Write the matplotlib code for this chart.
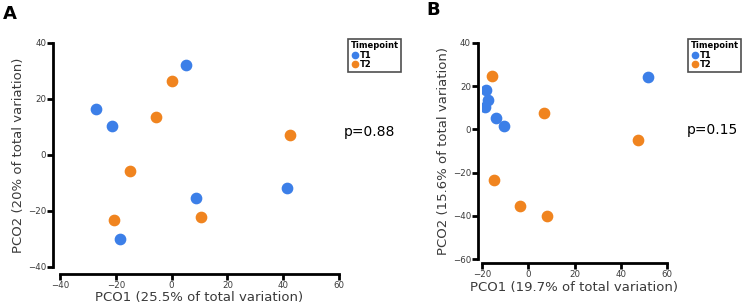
import matplotlib.pyplot as plt
from matplotlib.lines import Line2D

# Panel A data (PCO1, PCO2)
a_t1_x = [5.0, -27.0, -21.2, 8.9, 41.2, -18.4]
a_t1_y = [32.0, 16.4, 10.5, -15.4, -11.8, -29.9]
a_t2_x = [0.3, -5.7, 42.4, -14.8, -20.8, 10.4]
a_t2_y = [26.6, 13.4, 7.2, -5.7, -23.2, -22.0]

# Panel B data
b_t1_x = [51.9, -18.1, -17.6, -18.6, -13.9, -10.3]
b_t1_y = [24.2, 18.0, 13.7, 10.5, 5.4, 1.4]
b_t2_x = [-15.7, 6.9, 47.6, -14.7, -3.7, 8.0]
b_t2_y = [24.6, 7.7, -4.9, -23.4, -35.5, -40.2]

blue = "#3c7fe8"
orange = "#f0841f"
txt = "#3a3a3a"

fig = plt.figure(figsize=(7.44, 3.03), dpi=100)


def style_axes(ax, xlim, ylim, xticks, yticks, xlabel, ylabel, offset):
    ax.set_xlim(*xlim)
    ax.set_ylim(*ylim)
    ax.set_xticks(xticks)
    ax.set_yticks(yticks)
    for s in ["top", "right"]:
        ax.spines[s].set_visible(False)
    for s in ["left", "bottom"]:
        ax.spines[s].set_linewidth(2)
        ax.spines[s].set_position(("outward", offset))
    ax.tick_params(direction="out", length=4, width=2, labelsize=6.2,
                   labelcolor=txt, pad=1)
    ax.set_xlabel(xlabel, fontsize=9.5, color=txt, labelpad=1)
    ax.set_ylabel(ylabel, fontsize=9.5, color=txt, labelpad=2)
    ax.patch.set_alpha(0)


def add_legend(ax, x, y):
    handles = [Line2D([], [], marker="o", ls="", color=blue, markersize=4.5, label="T1"),
               Line2D([], [], marker="o", ls="", color=orange, markersize=4.5, label="T2")]
    leg = ax.legend(handles=handles, title="Timepoint", loc="upper left",
                    bbox_to_anchor=(x, y), bbox_transform=fig.transFigure,
                    frameon=True, fancybox=False, fontsize=6,
                    title_fontproperties={"weight": "bold", "size": 6},
                    handletextpad=0.1, handlelength=1.0, borderpad=0.3,
                    labelspacing=0.05, borderaxespad=0)
    leg.get_frame().set_edgecolor("#222222")
    leg.get_frame().set_linewidth(1.2)
    leg._legend_box.align = "left"
    for t in leg.get_texts():
        t.set_fontweight("bold")


# Panel A
axA = fig.add_axes([60 / 744, 36 / 303, 279 / 744, 224 / 303])
axA.scatter(a_t1_x, a_t1_y, s=55, color=blue, zorder=3)
axA.scatter(a_t2_x, a_t2_y, s=55, color=orange, zorder=3)
style_axes(axA, (-40, 60), (-40, 40), [-40, -20, 0, 20, 40, 60], [-40, -20, 0, 20, 40],
           "PCO1 (25.5% of total variation)", "PCO2 (20% of total variation)", 5)
add_legend(axA, 348 / 744, 1 - 39 / 303)
fig.text(344 / 744, 1 - 132 / 303, "p=0.88", fontsize=10, color="black", va="center")
fig.text(3 / 744, 1 - 14 / 303, "A", fontsize=13, fontweight="bold", va="center")

# Panel B
axB = fig.add_axes([482 / 744, 43.7 / 303, 185 / 744, 216.6 / 303])
axB.scatter(b_t1_x, b_t1_y, s=55, color=blue, zorder=3)
axB.scatter(b_t2_x, b_t2_y, s=55, color=orange, zorder=3)
style_axes(axB, (-20, 60), (-60, 40), [-20, 0, 20, 40, 60], [-60, -40, -20, 0, 20, 40],
           "PCO1 (19.7% of total variation)", "PCO2 (15.6% of total variation)", 3)
add_legend(axB, 688 / 744, 1 - 39 / 303)
fig.text(687 / 744, 1 - 130 / 303, "p=0.15", fontsize=10, color="black", va="center")
fig.text(426 / 744, 1 - 10 / 303, "B", fontsize=13, fontweight="bold", va="center")

fig.savefig("out.png", dpi=100)
